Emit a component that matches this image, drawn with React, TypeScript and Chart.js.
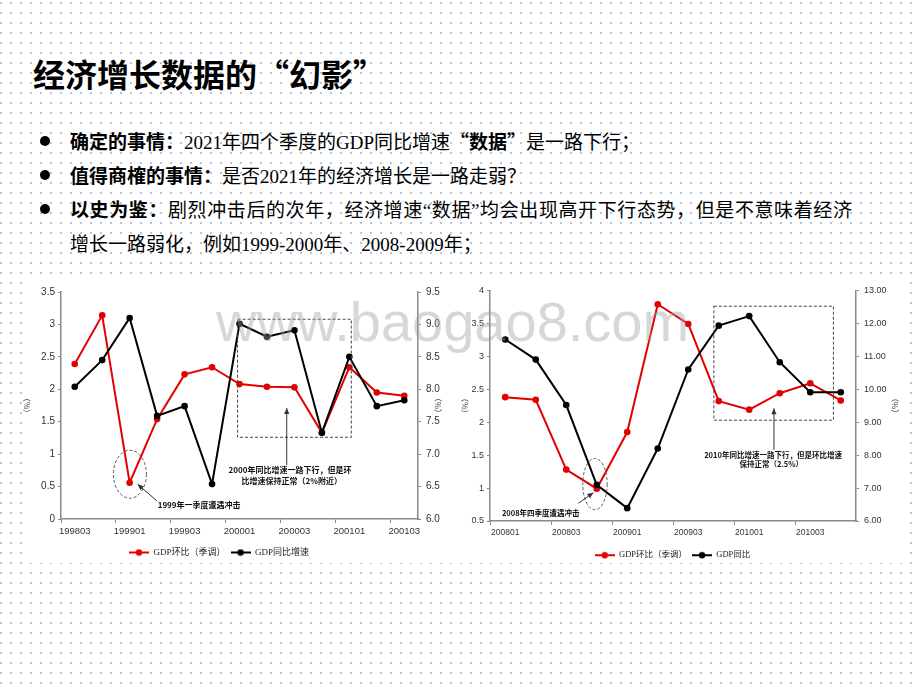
import React, { useEffect, useRef } from "react";
import { Chart, registerables } from "chart.js";

Chart.register(...registerables);

// ---------------- data ----------------
const leftCategories = ["199803", "199804", "199901", "199902", "199903", "199904", "200001", "200002", "200003", "200004", "200101", "200102", "200103"];
const leftQoq = [2.39, 3.14, 0.56, 1.54, 2.23, 2.34, 2.08, 2.04, 2.03, 1.33, 2.34, 1.95, 1.9];
const leftYoy = [8.04, 8.45, 9.1, 7.59, 7.74, 6.54, 9.01, 8.81, 8.91, 7.33, 8.5, 7.74, 7.83];
const leftSeriesNames = ["GDP环比（季调）", "GDP同比增速"];

const rightCategories = ["200801", "200802", "200803", "200804", "200901", "200902", "200903", "200904", "201001", "201002", "201003", "201004"];
const rightQoq = [2.38, 2.34, 1.28, 0.99, 1.85, 3.79, 3.49, 2.32, 2.19, 2.44, 2.59, 2.33];
const rightYoy = [11.51, 10.9, 9.52, 7.1, 6.39, 8.2, 10.6, 11.93, 12.22, 10.82, 9.91, 9.91];
const rightSeriesNames = ["GDP环比（季调）", "GDP同比"];

const leftAxisRange = [0, 3.5, 0.5];
const leftAxis2Range = [6, 9.5, 0.5];
const rightAxisRange = [0.5, 4, 0.5];
const rightAxis2Range = [6, 13, 1];

const titleText = "经济增长数据的“幻影”";

// annotations in data coordinates (x = category index, y = left axis value)
type Note =
  | { kind: "rect"; x0: number; x1: number; y0: number; y1: number }
  | { kind: "ellipse"; cx: number; cy: number; rx: number; ry: number }
  | { kind: "arrow"; x0: number; y0: number; x1: number; y1: number }
  | { kind: "text"; x: number; y: number; text: string; align: CanvasTextAlign };

const leftNotes: Note[] = [
  { kind: "rect", x0: 5.93, x1: 10.07, y0: 1.26, y1: 3.08 },
  { kind: "arrow", x0: 7.72, y0: 0.83, x1: 7.72, y1: 1.71 },
  { kind: "text", x: 7.84, y: 0.75, text: "2000年同比增速一路下行，但是环", align: "center" },
  { kind: "text", x: 7.9, y: 0.58, text: "比增速保持正常（2%附近）", align: "center" },
  { kind: "ellipse", cx: 2.01, cy: 0.69, rx: 0.6, ry: 0.37 },
  { kind: "arrow", x0: 2.99, y0: 0.28, x1: 2.29, y1: 0.535 },
  { kind: "text", x: 3.02, y: 0.216, text: "1999年一季度遭遇冲击", align: "left" },
];

const rightNotes: Note[] = [
  { kind: "rect", x0: 6.84, x1: 10.76, y0: 2.03, y1: 3.76 },
  { kind: "arrow", x0: 8.81, y0: 1.58, x1: 8.81, y1: 2.21 },
  { kind: "text", x: 8.78, y: 1.5, text: "2010年同比增速一路下行，但是环比增速", align: "center" },
  { kind: "text", x: 8.72, y: 1.36, text: "保持正常（2.5%）", align: "center" },
  { kind: "ellipse", cx: 2.94, cy: 1.06, rx: 0.4, ry: 0.39 },
  { kind: "arrow", x0: 2.4, y0: 0.77, x1: 2.89, y1: 0.93 },
  { kind: "text", x: -0.11, y: 0.62, text: "2008年四季度遭遇冲击", align: "left" },
];

const RED = "#e30000";
const BLACK = "#000000";
const AXIS = "#8a8a8a";

// ---------------- helpers ----------------
function makeIcon(color: string) {
  const c = document.createElement("canvas");
  c.width = 20;
  c.height = 8;
  const g = c.getContext("2d")!;
  g.strokeStyle = color;
  g.lineWidth = 2;
  g.beginPath();
  g.moveTo(0, 4);
  g.lineTo(20, 4);
  g.stroke();
  g.fillStyle = color;
  g.beginPath();
  g.arc(10, 4, 3.2, 0, Math.PI * 2);
  g.fill();
  return c;
}

const notesPlugin = {
  id: "notes",
  afterDatasetsDraw(chart: any, _args: any, opts: any) {
    const items: Note[] = opts.items || [];
    const xs = chart.scales.x;
    const ys = chart.scales.y;
    const ctx: CanvasRenderingContext2D = chart.ctx;
    const px = (v: number) => xs.getPixelForValue(v);
    const py = (v: number) => ys.getPixelForValue(v);
    ctx.save();
    for (const it of items) {
      if (it.kind === "rect") {
        ctx.strokeStyle = "#444";
        ctx.lineWidth = 1;
        ctx.setLineDash([3, 2]);
        const l = px(it.x0), r = px(it.x1), t = py(it.y1), b = py(it.y0);
        ctx.strokeRect(l, t, r - l, b - t);
        ctx.setLineDash([]);
      } else if (it.kind === "ellipse") {
        ctx.strokeStyle = "#555";
        ctx.lineWidth = 1;
        ctx.setLineDash([3, 2]);
        const cx = px(it.cx), cy = py(it.cy);
        const rx = Math.abs(px(it.cx + it.rx) - cx);
        const ry = Math.abs(py(it.cy + it.ry) - cy);
        ctx.beginPath();
        ctx.ellipse(cx, cy, rx, ry, 0, 0, Math.PI * 2);
        ctx.stroke();
        ctx.setLineDash([]);
      } else if (it.kind === "arrow") {
        const x0 = px(it.x0), y0 = py(it.y0), x1 = px(it.x1), y1 = py(it.y1);
        ctx.strokeStyle = "#333";
        ctx.fillStyle = "#333";
        ctx.lineWidth = 1;
        ctx.beginPath();
        ctx.moveTo(x0, y0);
        ctx.lineTo(x1, y1);
        ctx.stroke();
        const a = Math.atan2(y1 - y0, x1 - x0);
        const L = 6, W = 2.6;
        ctx.beginPath();
        ctx.moveTo(x1, y1);
        ctx.lineTo(x1 - L * Math.cos(a) + W * Math.sin(a), y1 - L * Math.sin(a) - W * Math.cos(a));
        ctx.lineTo(x1 - L * Math.cos(a) - W * Math.sin(a), y1 - L * Math.sin(a) + W * Math.cos(a));
        ctx.closePath();
        ctx.fill();
      } else if (it.kind === "text") {
        ctx.fillStyle = "#111";
        ctx.font = `bold ${opts.fontSize || 8}px "Noto Sans CJK SC", "Liberation Sans", sans-serif`;
        ctx.textAlign = it.align;
        ctx.textBaseline = "middle";
        ctx.fillText(it.text, px(it.x), py(it.y));
      }
    }
    ctx.restore();
  },
};

type ChartProps = {
  left: number;
  top: number;
  width: number;
  height: number;
  categories: string[];
  qoq: number[];
  yoy: number[];
  names: string[];
  range1: number[];
  range2: number[];
  fmt1: (v: number) => string;
  fmt2: (v: number) => string;
  leftW: number;
  rightW: number;
  padTop: number;
  xH: number;
  legendH: number;
  legendDx: number;
  legendDy: number;
  legendSize: number;
  tickSize: number;
  xTickSize: number;
  notes: Note[];
  noteSize: number;
  titlePadL: number;
  titlePadR: number;
};

function DualChart(p: ChartProps) {
  const ref = useRef<HTMLCanvasElement>(null);
  useEffect(() => {
    if (!ref.current) return;
    const icons = [makeIcon(RED), makeIcon(BLACK)];
    const tickFont = { family: '"Liberation Sans", Arial, sans-serif', size: p.tickSize };
    const legendPatch = {
      id: "legendPatch",
      beforeLayout(chart: any) {
        const lg = chart.legend;
        if (!lg || lg.__patched) return;
        lg.__patched = true;
        const of = lg.fit.bind(lg);
        lg.fit = function () {
          of();
          this.height = p.legendH;
        };
        const od = lg.draw.bind(lg);
        lg.draw = function () {
          const c = chart.ctx;
          c.save();
          c.translate(p.legendDx, p.legendDy);
          od();
          c.restore();
        };
      },
    };
    const chart = new Chart(ref.current, {
      type: "line",
      data: {
        labels: p.categories,
        datasets: [
          {
            label: p.names[0],
            data: p.qoq,
            yAxisID: "y",
            borderColor: RED,
            backgroundColor: RED,
            pointBackgroundColor: RED,
            pointBorderColor: RED,
            borderWidth: 2,
            pointRadius: 3.3,
            pointBorderWidth: 0,
            tension: 0,
            order: 1,
          },
          {
            label: p.names[1],
            data: p.yoy,
            yAxisID: "y1",
            borderColor: BLACK,
            backgroundColor: BLACK,
            pointBackgroundColor: BLACK,
            pointBorderColor: BLACK,
            borderWidth: 2,
            pointRadius: 3.3,
            pointBorderWidth: 0,
            tension: 0,
            order: 0,
          },
        ],
      },
      options: {
        responsive: false,
        animation: false,
        devicePixelRatio: 1,
        layout: { padding: { top: p.padTop, left: 0, right: 0, bottom: 0 } },
        plugins: {
          tooltip: { enabled: false },
          legend: {
            position: "bottom",
            labels: {
              usePointStyle: true,
              pointStyleWidth: 20,
              padding: 5,
              color: "#222",
              font: { family: '"Liberation Serif", "Noto Sans CJK SC", serif', size: p.legendSize },
              generateLabels: (chart: any) =>
                chart.data.datasets.map((ds: any, i: number) => ({
                  text: ds.label,
                  pointStyle: icons[i],
                  fillStyle: ds.borderColor,
                  strokeStyle: ds.borderColor,
                  lineWidth: 0,
                  hidden: false,
                  datasetIndex: i,
                  fontColor: "#222",
                })),
            },
          },
          notes: { items: p.notes, fontSize: p.noteSize },
        } as any,
        scales: {
          x: {
            type: "category",
            offset: true,
            grid: {
              offset: true,
              drawOnChartArea: false,
              drawTicks: true,
              tickLength: 4,
              color: (ctx: any) => (ctx.index % 2 === 0 ? AXIS : "rgba(0,0,0,0)"),
            },
            border: { display: true, color: AXIS, width: 1.5 },
            ticks: {
              autoSkip: false,
              maxRotation: 0,
              minRotation: 0,
              padding: 3,
              color: "#333",
              font: { family: '"Liberation Sans", Arial, sans-serif', size: p.xTickSize },
              callback: (_v: any, i: number) => (i % 2 === 0 ? p.categories[i] : ""),
            },
            afterFit: (s: any) => {
              s.height = p.xH;
            },
          },
          y: {
            position: "left",
            min: p.range1[0],
            max: p.range1[1],
            grid: { drawOnChartArea: false, tickLength: 3, color: AXIS },
            border: { display: true, color: AXIS, width: 1.5 },
            ticks: {
              stepSize: p.range1[2],
              padding: 3,
              color: "#333",
              font: tickFont,
              callback: (v: any) => p.fmt1(Number(v)),
            },
            title: {
              display: true,
              text: "（%）",
              color: "#444",
              font: { family: '"Noto Sans CJK SC", sans-serif', size: 8 },
              padding: { top: p.titlePadL, bottom: 0 },
            },
            afterFit: (s: any) => {
              s.width = p.leftW;
            },
          },
          y1: {
            position: "right",
            min: p.range2[0],
            max: p.range2[1],
            grid: { drawOnChartArea: false, tickLength: 3, color: AXIS },
            border: { display: true, color: AXIS, width: 1.5 },
            ticks: {
              stepSize: p.range2[2],
              padding: 5,
              color: "#333",
              font: tickFont,
              callback: (v: any) => p.fmt2(Number(v)),
            },
            title: {
              display: true,
              text: "（%）",
              color: "#444",
              font: { family: '"Noto Sans CJK SC", sans-serif', size: 8 },
              padding: { top: p.titlePadR, bottom: 0 },
            },
            afterFit: (s: any) => {
              s.width = p.rightW;
            },
          },
        },
      } as any,
      plugins: [notesPlugin as any, legendPatch as any],
    });
    return () => chart.destroy();
  }, []);
  return (
    <div
      style={{
        position: "absolute",
        left: p.left,
        top: p.top,
        width: p.width,
        height: p.height,
        background: "#fff",
      }}
    >
      <canvas ref={ref} width={p.width} height={p.height} style={{ display: "block" }} />
    </div>
  );
}

const pageStyle: React.CSSProperties = {
  position: "absolute",
  left: 0,
  top: 0,
  width: 920,
  height: 690,
  overflow: "hidden",
  backgroundColor: "#fff",
  backgroundImage: "radial-gradient(circle at 1px 1px, #a2b2d6 0.6px, rgba(255,255,255,0) 1.1px)",
  backgroundSize: "10px 10px",
  backgroundPosition: "0px 2px",
  fontFamily: '"Noto Sans CJK SC", sans-serif',
};

const boldCss: React.CSSProperties = { fontFamily: '"Noto Sans CJK SC", sans-serif', fontWeight: 700 };
const plainCss: React.CSSProperties = { fontFamily: '"Liberation Serif", "Noto Sans CJK SC", serif', fontWeight: 400 };

function Bullet({ y }: { y: number }) {
  return (
    <div
      style={{
        position: "absolute",
        left: 40,
        top: y - 5,
        width: 10,
        height: 10,
        borderRadius: 5,
        background: "#000",
      }}
    />
  );
}

export default function App() {
  const lineStyle = (top: number, spacing = 0): React.CSSProperties => ({
    position: "absolute",
    left: 70,
    top: top - 17,
    height: 34,
    lineHeight: "34px",
    fontSize: 19,
    letterSpacing: spacing,
    color: "#000",
    whiteSpace: "nowrap",
  });
  return (
    <div style={pageStyle}>
      <div
        style={{
          position: "absolute",
          left: 33,
          top: 56,
          fontSize: 32,
          lineHeight: "34px",
          fontWeight: 700,
          color: "#000",
          whiteSpace: "nowrap",
        }}
      >
        {titleText}
      </div>

      <Bullet y={141} />
      <div style={lineStyle(141)}>
        <span style={boldCss}>确定的事情：</span>
        <span style={plainCss}>2021年四个季度的GDP同比增速</span>
        <span style={boldCss}>“数据”</span>
        <span style={plainCss}>是一路下行；</span>
      </div>
      <Bullet y={175} />
      <div style={lineStyle(175)}>
        <span style={boldCss}>值得商榷的事情：</span>
        <span style={plainCss}>是否2021年的经济增长是一路走弱？</span>
      </div>
      <Bullet y={209} />
      <div style={lineStyle(209, 0.6)}>
        <span style={boldCss}>以史为鉴：</span>
        <span style={plainCss}>剧烈冲击后的次年，经济增速“数据”均会出现高开下行态势，但是不意味着经济</span>
      </div>
      <div style={lineStyle(243)}>
        <span style={plainCss}>增长一路弱化，例如1999-2000年、2008-2009年；</span>
      </div>

      <DualChart
        left={22}
        top={280}
        width={434}
        height={283}
        categories={leftCategories}
        qoq={leftQoq}
        yoy={leftYoy}
        names={leftSeriesNames}
        range1={leftAxisRange}
        range2={leftAxis2Range}
        fmt1={(v) => String(+v.toFixed(1))}
        fmt2={(v) => v.toFixed(1)}
        leftW={39}
        rightW={38}
        padTop={12}
        xH={24}
        legendH={20}
        legendDx={-20}
        legendDy={0}
        legendSize={9}
        tickSize={10}
        xTickSize={9.5}
        notes={leftNotes}
        noteSize={8}
        titlePadL={0}
        titlePadR={13}
      />
      <DualChart
        left={460}
        top={280}
        width={445}
        height={283}
        categories={rightCategories}
        qoq={rightQoq}
        yoy={rightYoy}
        names={rightSeriesNames}
        range1={rightAxisRange}
        range2={rightAxis2Range}
        fmt1={(v) => String(+v.toFixed(1))}
        fmt2={(v) => v.toFixed(2)}
        leftW={30}
        rightW={49}
        padTop={10}
        xH={25}
        legendH={17}
        legendDx={-10}
        legendDy={0}
        legendSize={8.5}
        tickSize={9}
        xTickSize={8.5}
        notes={rightNotes}
        noteSize={7.5}
        titlePadL={0}
        titlePadR={5}
      />

      <div
        style={{
          position: "absolute",
          left: 216,
          top: 290,
          fontFamily: '"Liberation Sans", Arial, sans-serif',
          fontSize: 56,
          lineHeight: "64px",
          color: "rgba(160,160,160,0.42)",
          whiteSpace: "nowrap",
          pointerEvents: "none",
        }}
      >
        www.baogao8.com
      </div>
    </div>
  );
}
